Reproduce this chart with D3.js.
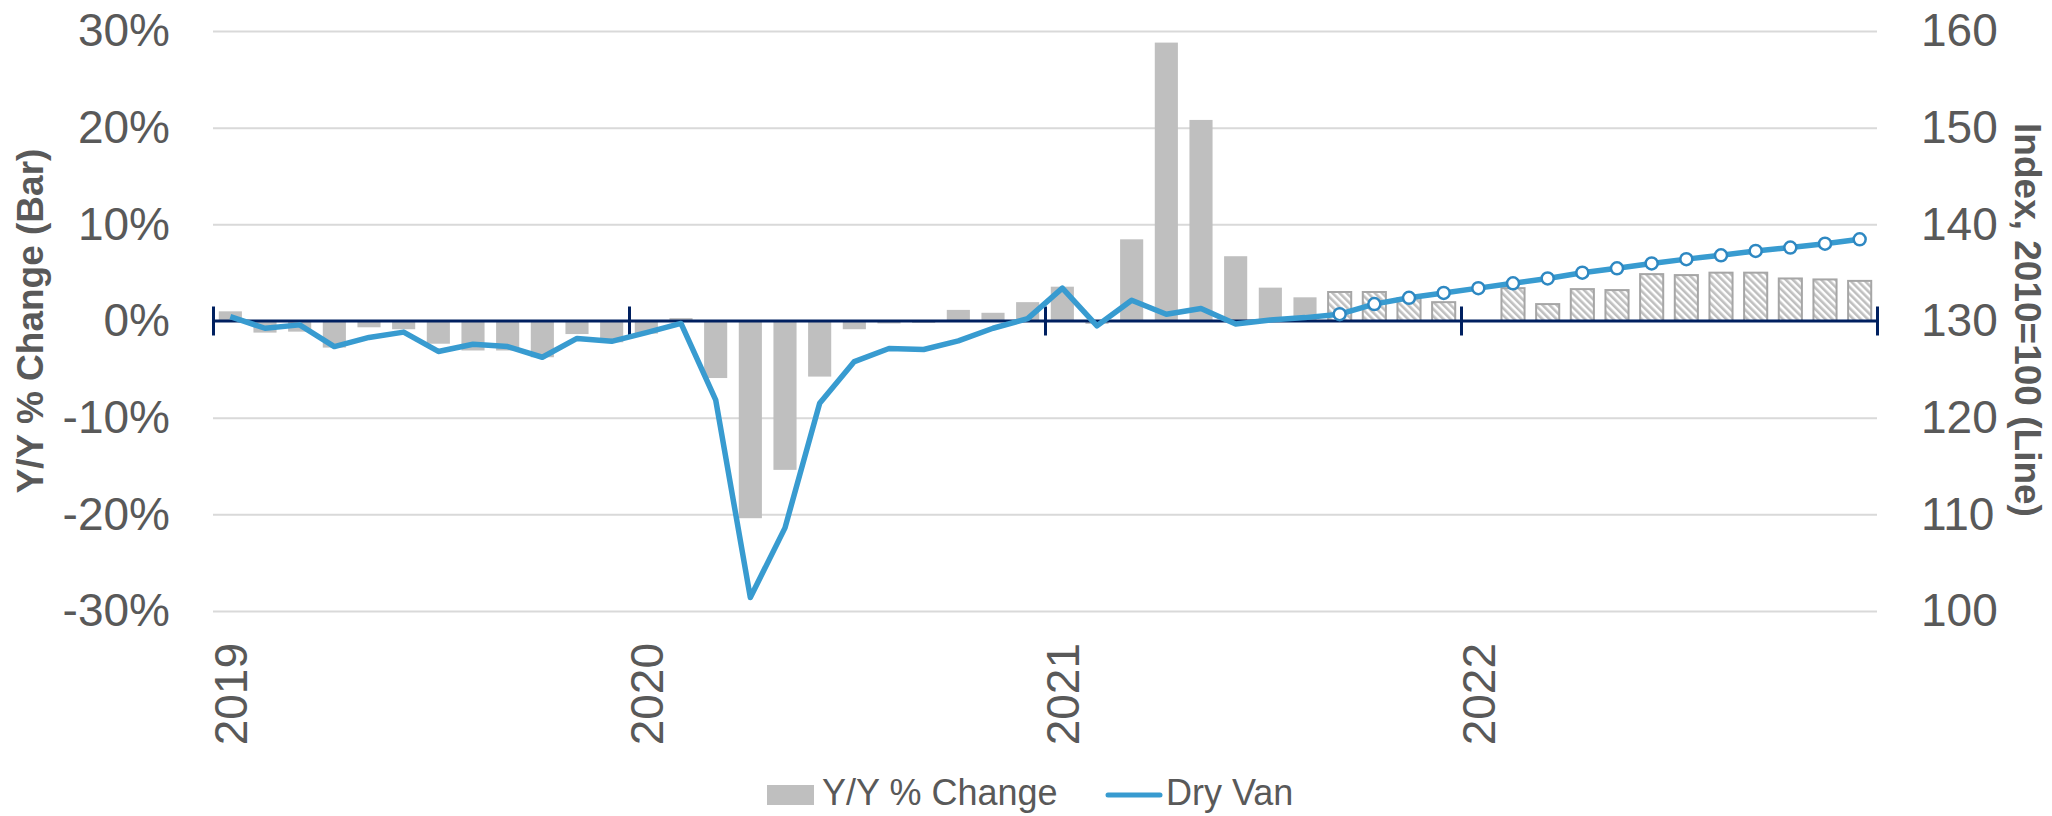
<!DOCTYPE html>
<html>
<head>
<meta charset="utf-8">
<script src="https://cdnjs.cloudflare.com/ajax/libs/d3/7.8.5/d3.min.js"></script>
<style>
  body { margin: 0; background: #fff; }
  text { font-family: "Liberation Sans", Arial, sans-serif; }
</style>
</head>
<body>
<script>
// chart values
var years = ["2019", "2020", "2021", "2022"];
var monthNames = ["Jan", "Feb", "Mar", "Apr", "May", "Jun", "Jul", "Aug", "Sep", "Oct", "Nov", "Dec"];

// Y/Y % change (bars), Jan 2019 .. Dec 2022
var yoyChange = [
   0.010, -0.012, -0.011, -0.0275, -0.0065, -0.0085, -0.0235, -0.0305, -0.0305, -0.0375, -0.0135, -0.022,
  -0.013,  0.003, -0.059, -0.204,  -0.154,  -0.0575, -0.0085, -0.0025, -0.002,   0.0115,  0.0085,  0.0195,
   0.0355, -0.003, 0.0845, 0.288,   0.208,   0.067,   0.0345,  0.0245,  0.030,   0.030,   0.0235,  0.0195,
   null,   0.034,  0.0175, 0.033,   0.032,   0.0485,  0.0475,  0.050,   0.050,   0.044,   0.043,   0.0415
];

// Dry Van index, 2010=100 (line)
var dryVan = [
  130.45, 129.25, 129.6, 127.35, 128.3, 128.85, 126.85, 127.6, 127.35, 126.25, 128.2, 127.9,
  128.8, 129.75, 121.85, 101.4, 108.6, 121.5, 125.8, 127.15, 127.05, 127.95, 129.25, 130.25,
  133.4, 129.5, 132.15, 130.7, 131.3, 129.7, 130.1, 130.35, 130.7, 131.75, 132.4, 132.9,
  133.4, 133.9, 134.4, 135.0, 135.45, 135.95, 136.4, 136.8, 137.25, 137.6, 138.0, 138.45
];

var forecastFrom = "Sep 2021";   // hatched bars + markers from here on
var leftTicks = [-0.3, -0.2, -0.1, 0, 0.1, 0.2, 0.3];
var rightTicks = [100, 110, 120, 130, 140, 150, 160];

var categories = [];
years.forEach(function(y) {
  monthNames.forEach(function(m) { categories.push(m + " " + y); });
});
var firstForecast = categories.indexOf(forecastFrom);

var margin = { top: 31, right: 175, bottom: 205, left: 213 },
    width = 2052 - margin.left - margin.right,
    height = 816 - margin.top - margin.bottom;

var barColor = "#bfbfbf",
    lineColor = "#389bd0",
    textColor = "#595959",
    axisColor = "#002060";

var svg = d3.select("body").append("svg")
    .attr("width", 2052)
    .attr("height", 816);

// hatch for the forecast bars
var pattern = svg.append("defs").append("pattern")
    .attr("id", "hatch")
    .attr("patternUnits", "userSpaceOnUse")
    .attr("width", 5)
    .attr("height", 5)
    .attr("patternTransform", "rotate(-45)");
pattern.append("rect").attr("width", 5).attr("height", 5).attr("fill", "#ffffff");
pattern.append("rect").attr("width", 2.6).attr("height", 5).attr("fill", barColor);

var chart = svg.append("g")
    .attr("transform", "translate(" + margin.left + "," + margin.top + ")");

var x = d3.scaleBand()
    .domain(categories)
    .range([0, width])
    .paddingInner(1 / 3)
    .paddingOuter(1 / 6);

var yBar = d3.scaleLinear().domain([-0.3, 0.3]).range([height, 0]);
var yLine = d3.scaleLinear().domain([100, 160]).range([height, 0]);

// gridlines
chart.append("g")
    .call(d3.axisLeft(yBar).tickValues(leftTicks.filter(function(d) { return d !== 0; }))
      .tickSize(-width).tickFormat(""))
    .call(function(g) { g.select(".domain").remove(); })
    .selectAll("line")
    .attr("stroke", "#d9d9d9")
    .attr("stroke-width", 2);

// left axis labels
var leftAxis = chart.append("g")
    .call(d3.axisLeft(yBar).tickValues(leftTicks).tickSize(0).tickPadding(43)
      .tickFormat(function(d) { return Math.round(d * 100) + "%"; }));
leftAxis.select(".domain").remove();
leftAxis.selectAll("text")
    .style("font-size", "46px")
    .style("fill", textColor);

// right axis labels
var rightAxis = chart.append("g")
    .attr("transform", "translate(" + width + ",0)")
    .call(d3.axisRight(yLine).tickValues(rightTicks).tickSize(0).tickPadding(44));
rightAxis.select(".domain").remove();
rightAxis.selectAll("text")
    .style("font-size", "46px")
    .style("fill", textColor);

// bars
chart.selectAll(".bar")
    .data(yoyChange.map(function(v, i) { return { cat: categories[i], v: v, i: i }; })
      .filter(function(d) { return d.v !== null; }))
    .enter()
    .append("rect")
    .attr("class", "bar")
    .attr("x", function(d) { return x(d.cat); })
    .attr("width", x.bandwidth())
    .attr("y", function(d) { return yBar(Math.max(0, d.v)); })
    .attr("height", function(d) { return Math.abs(yBar(d.v) - yBar(0)); })
    .attr("fill", function(d) { return d.i >= firstForecast ? "url(#hatch)" : barColor; })
    .attr("stroke", function(d) { return d.i >= firstForecast ? "#a6a6a6" : "none"; })
    .attr("stroke-width", 2);

// zero axis with cross ticks at the year boundaries
var yearScale = d3.scaleLinear().domain([0, years.length]).range([0, width]);
var xAxis = chart.append("g")
    .attr("transform", "translate(0," + (yBar(0) - 14.5) + ")")
    .call(d3.axisBottom(yearScale).tickValues(d3.range(0, years.length + 1))
      .tickSize(29).tickFormat(""));
xAxis.select(".domain").remove();
xAxis.selectAll("line")
    .attr("stroke", axisColor)
    .attr("stroke-width", 3);

chart.append("line")
    .attr("x1", 0)
    .attr("x2", width)
    .attr("y1", yBar(0))
    .attr("y2", yBar(0))
    .attr("stroke", axisColor)
    .attr("stroke-width", 3);

// year labels
chart.selectAll(".year")
    .data(years)
    .enter()
    .append("text")
    .attr("class", "year")
    .attr("transform", function(d) {
      return "translate(" + (x("Jan " + d) + x.bandwidth() / 2 + 16.5) + "," + (643 - margin.top) + ") rotate(-90)";
    })
    .attr("text-anchor", "end")
    .style("font-size", "46px")
    .style("fill", textColor)
    .text(function(d) { return d; });

// Dry Van line
var line = d3.line()
    .x(function(d, i) { return x(categories[i]) + x.bandwidth() / 2; })
    .y(function(d) { return yLine(d); });

chart.append("path")
    .datum(dryVan)
    .attr("d", line)
    .attr("fill", "none")
    .attr("stroke", lineColor)
    .attr("stroke-width", 5.5)
    .attr("stroke-linejoin", "round");

chart.selectAll(".marker")
    .data(dryVan.map(function(v, i) { return { cat: categories[i], v: v, i: i }; })
      .filter(function(d) { return d.i >= firstForecast; }))
    .enter()
    .append("circle")
    .attr("class", "marker")
    .attr("cx", function(d) { return x(d.cat) + x.bandwidth() / 2; })
    .attr("cy", function(d) { return yLine(d.v); })
    .attr("r", 6)
    .attr("fill", "#ffffff")
    .attr("stroke", "#2e88c2")
    .attr("stroke-width", 2.5);

// axis titles
svg.append("text")
    .attr("transform", "translate(30,321) rotate(-90)")
    .attr("text-anchor", "middle")
    .attr("dy", "0.35em")
    .style("font-size", "37px")
    .style("font-weight", "bold")
    .style("fill", textColor)
    .text("Y/Y % Change (Bar)");

svg.append("text")
    .attr("transform", "translate(2028,320) rotate(90)")
    .attr("text-anchor", "middle")
    .attr("dy", "0.35em")
    .style("font-size", "37px")
    .style("font-weight", "bold")
    .style("fill", textColor)
    .text("Index, 2010=100 (Line)");

// legend
var legend = svg.append("g");
legend.append("rect")
    .attr("x", 767).attr("y", 785)
    .attr("width", 47).attr("height", 20)
    .attr("fill", barColor);
legend.append("text")
    .attr("x", 822).attr("y", 805)
    .style("font-size", "36px")
    .style("fill", textColor)
    .text("Y/Y % Change");
legend.append("line")
    .attr("x1", 1108).attr("x2", 1160)
    .attr("y1", 795).attr("y2", 795)
    .attr("stroke", lineColor)
    .attr("stroke-width", 5)
    .attr("stroke-linecap", "round");
legend.append("text")
    .attr("x", 1166).attr("y", 805)
    .style("font-size", "36px")
    .style("fill", textColor)
    .text("Dry Van");
</script>
</body>
</html>
